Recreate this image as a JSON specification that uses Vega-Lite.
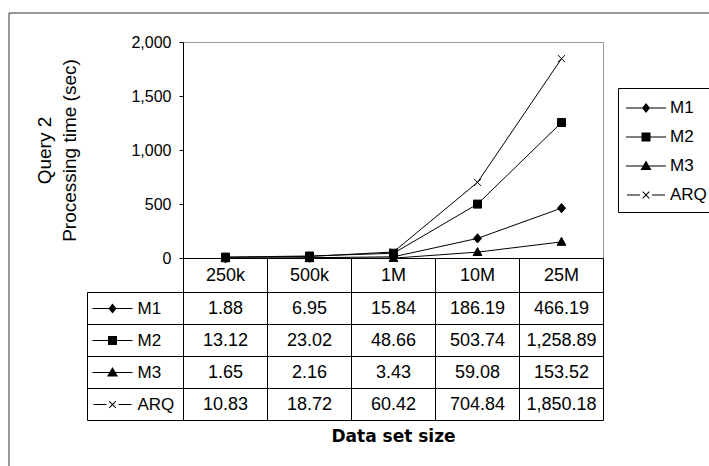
{
  "$schema": "https://vega.github.io/schema/vega-lite/v6.json",
  "width": 702,
  "height": 455,
  "autosize": {"type": "none"},
  "padding": {"left": 8.5, "top": 12.5, "right": -1.5, "bottom": -1.5},
  "background": "#ffffff",
  "view": {"stroke": "#333333", "strokeWidth": 1},
  "config": {
    "font": "Liberation Sans",
    "axis": {
      "translate": 0,
      "grid": false,
      "domainColor": "#000000",
      "tickColor": "#000000",
      "labelColor": "#000000",
      "titleColor": "#000000",
      "labelFont": "Liberation Sans",
      "titleFont": "Liberation Sans",
      "titleFontWeight": "normal"
    }
  },
  "datasets": {
    "times": [
      {"series": "M1", "size": "250k", "time": 1.88},
      {"series": "M1", "size": "500k", "time": 6.95},
      {"series": "M1", "size": "1M", "time": 15.84},
      {"series": "M1", "size": "10M", "time": 186.19},
      {"series": "M1", "size": "25M", "time": 466.19},
      {"series": "M2", "size": "250k", "time": 13.12},
      {"series": "M2", "size": "500k", "time": 23.02},
      {"series": "M2", "size": "1M", "time": 48.66},
      {"series": "M2", "size": "10M", "time": 503.74},
      {"series": "M2", "size": "25M", "time": 1258.89},
      {"series": "M3", "size": "250k", "time": 1.65},
      {"series": "M3", "size": "500k", "time": 2.16},
      {"series": "M3", "size": "1M", "time": 3.43},
      {"series": "M3", "size": "10M", "time": 59.08},
      {"series": "M3", "size": "25M", "time": 153.52},
      {"series": "ARQ", "size": "250k", "time": 10.83},
      {"series": "ARQ", "size": "500k", "time": 18.72},
      {"series": "ARQ", "size": "1M", "time": 60.42},
      {"series": "ARQ", "size": "10M", "time": 704.84},
      {"series": "ARQ", "size": "25M", "time": 1850.18}
    ],
    "methods": [
      {"series": "M1"},
      {"series": "M2"},
      {"series": "M3"},
      {"series": "ARQ"}
    ]
  },
  "layer": [
    {
      "data": {"name": "times"},
      "encoding": {
        "x": {
          "field": "size",
          "type": "ordinal",
          "sort": ["250k", "500k", "1M", "10M", "25M"],
          "scale": {"type": "point", "domain": ["250k", "500k", "1M", "10M", "25M"], "range": [175, 595], "padding": 0.5},
          "axis": {"orient": "top", "offset": -30, "domainColor": "#999999", "ticks": false, "labels": false, "title": null}
        }
      },
      "layer": [
        {
          "mark": {"type": "line", "color": "#000000", "strokeWidth": 1},
          "encoding": {
            "detail": {"field": "series"},
            "y": {
              "field": "time",
              "type": "quantitative",
              "scale": {"domain": [0, 2000], "range": [246, 30], "nice": false},
              "axis": {
                "orient": "left",
                "offset": -175,
                "values": [0, 500, 1000, 1500, 2000],
                "format": ",.0f",
                "tickSize": 4,
                "labelPadding": 8,
                "labelFontSize": 16,
                "title": ["Query 2", "Processing time (sec)"],
                "titleFontSize": 19,
                "titleLineHeight": 25,
                "titlePadding": 51
              }
            }
          }
        },
        {
          "mark": {"type": "point", "filled": true, "fill": "#000000", "stroke": "#000000", "strokeWidth": 1, "opacity": 1, "size": 64},
          "encoding": {
            "y": {
              "field": "time",
              "type": "quantitative",
              "scale": {"domain": [0, 2000], "range": [246, 30], "nice": false},
              "axis": {"orient": "right", "offset": -107, "domainColor": "#999999", "ticks": false, "labels": false, "title": null}
            },
            "shape": {
              "field": "series",
              "type": "nominal",
              "scale": {
                "domain": ["M1", "M2", "M3", "ARQ"],
                "range": [
                  "M0,-1.15L1,0L0,1.15L-1,0Z",
                  "M-1,-1H1V1H-1Z",
                  "M0,-1.15L1.1,0.85H-1.1Z",
                  "M-0.9,-0.9L0.9,0.9M-0.9,0.9L0.9,-0.9"
                ]
              },
              "legend": null
            }
          }
        }
      ],
      "resolve": {"axis": {"y": "independent"}}
    },
    {
      "data": {"name": "times"},
      "encoding": {
        "x": {
          "field": "size",
          "type": "ordinal",
          "sort": ["250k", "500k", "1M", "10M", "25M"],
          "scale": {"type": "band", "domain": ["250k", "500k", "1M", "10M", "25M"], "range": [175, 595], "paddingInner": 0, "paddingOuter": 0},
          "axis": {
            "orient": "bottom",
            "offset": -209,
            "tickBand": "extent",
            "tickSize": 34,
            "labelPadding": -17,
            "labelBaseline": "middle",
            "labelAngle": 0,
            "labelFontSize": 18,
            "title": "Data set size",
            "titleFont": "DejaVu Sans",
            "titleFontWeight": "bold",
            "titleFontSize": 17,
            "titlePadding": 136
          }
        },
        "y": {
          "field": "series",
          "type": "nominal",
          "sort": ["M1", "M2", "M3", "ARQ"],
          "scale": {"type": "band", "domain": ["M1", "M2", "M3", "ARQ"], "range": [280, 408], "paddingInner": 0, "paddingOuter": 0},
          "axis": {"orient": "left", "offset": -79, "ticks": false, "labels": false, "title": null}
        }
      },
      "layer": [
        {"mark": {"type": "rect", "fill": "#ffffff", "stroke": "#000000", "strokeWidth": 1}},
        {
          "mark": {"type": "text", "fontSize": 18, "color": "#000000", "align": "center", "baseline": "middle"},
          "encoding": {"text": {"field": "time", "type": "quantitative", "format": ",.2f"}}
        }
      ]
    },
    {
      "data": {"name": "methods"},
      "mark": {"type": "point", "filled": true, "fill": "#000000", "strokeWidth": 0, "opacity": 1, "size": 400},
      "encoding": {
        "x": {
          "datum": "marker",
          "type": "nominal",
          "scale": {"type": "point", "domain": ["marker"], "range": [79, 129], "padding": 0.5},
          "axis": null
        },
        "y": {
          "field": "series",
          "type": "nominal",
          "sort": ["M1", "M2", "M3", "ARQ"],
          "scale": {"type": "band", "domain": ["M1", "M2", "M3", "ARQ"], "range": [280, 408], "paddingInner": 0, "paddingOuter": 0},
          "axis": {
            "orient": "left",
            "offset": -175,
            "tickBand": "extent",
            "tickSize": 96,
            "labelPadding": -50,
            "labelAlign": "left",
            "labelBaseline": "middle",
            "labelFontSize": 17,
            "title": null
          }
        },
        "shape": {
          "field": "series",
          "type": "nominal",
          "scale": {
            "domain": ["M1", "M2", "M3", "ARQ"],
            "range": [
              "M-2,-0.05H2V0.05H-2ZM0,-0.5L0.4,0L0,0.5L-0.4,0Z",
              "M-2,-0.05H2V0.05H-2ZM-0.45,-0.45H0.45V0.45H-0.45Z",
              "M-2,-0.05H2V0.05H-2ZM0,-0.55L0.55,0.4H-0.55Z",
              "M-1.9,-0.05H-0.6V0.05H-1.9ZM0.6,-0.05H1.9V0.05H0.6ZM-0.295,-0.365L0.365,0.295L0.295,0.365L-0.365,-0.295ZM-0.365,0.295L0.295,-0.365L0.365,-0.295L-0.295,0.365Z"
            ]
          },
          "legend": {
            "orient": "none",
            "legendX": 609.5,
            "legendY": 75.5,
            "title": null,
            "strokeColor": "#000000",
            "fillColor": "#ffffff",
            "padding": 9,
            "rowPadding": 10,
            "symbolSize": 400,
            "symbolOffset": 8,
            "labelOffset": 13,
            "labelFontSize": 17,
            "labelColor": "#000000",
            "symbolFillColor": "#000000",
            "symbolOpacity": 1
          }
        }
      }
    }
  ],
  "resolve": {"scale": {"x": "independent", "y": "independent", "shape": "independent"}}
}
